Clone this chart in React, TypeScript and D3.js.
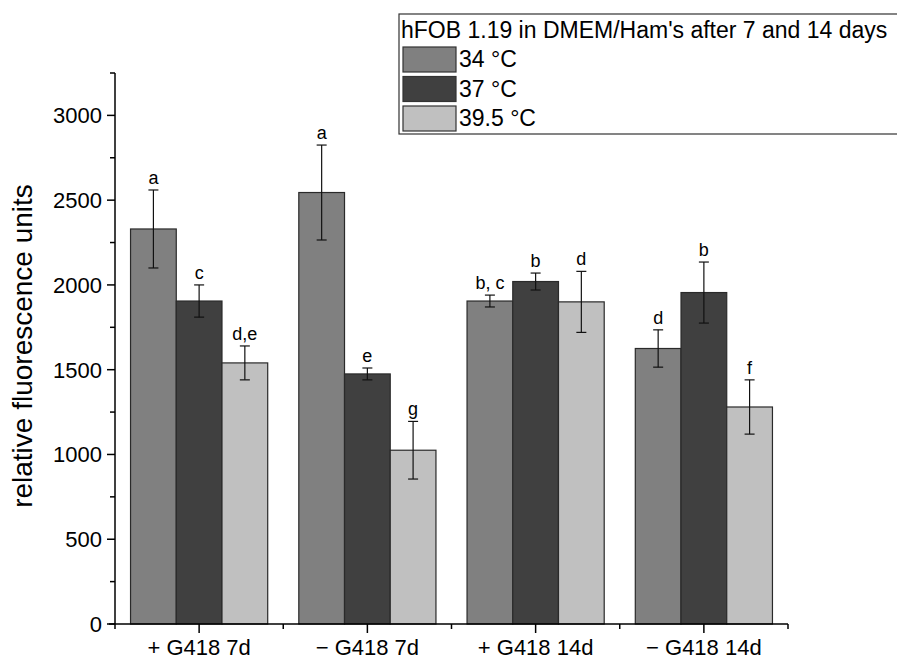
import { useEffect, useRef } from "react";
import * as d3 from "d3";

const categories = ["+ G418 7d", "\u2212 G418 7d", "+ G418 14d", "\u2212 G418 14d"];
const seriesNames = ["34 \u00b0C", "37 \u00b0C", "39.5 \u00b0C"];
const seriesColors = ["#808080", "#404040", "#c0c0c0"];
// per series, per category
const means = [
  [2330, 2545, 1905, 1625],
  [1905, 1475, 2020, 1955],
  [1540, 1025, 1900, 1280],
];
const errors = [
  [230, 280, 35, 110],
  [95, 35, 50, 180],
  [100, 170, 180, 160],
];
const letters = [
  ["a", "a", "b, c", "d"],
  ["c", "e", "b", "b"],
  ["d,e", "g", "d", "f"],
];
const yTicks = [0, 500, 1000, 1500, 2000, 2500, 3000];
const legendTitle = "hFOB 1.19 in DMEM/Ham's after 7 and 14 days";

export default function App() {
  const svgRef = useRef<SVGSVGElement | null>(null);

  useEffect(() => {
    if (!svgRef.current) return;
    const svg = d3.select(svgRef.current);
    svg.selectAll("*").remove();
    const font = "'Liberation Sans', Arial, sans-serif";

    const left = 115;
    const right = 788;
    const bottom = 624;
    const top = 73;

    const x = d3.scaleBand<string>().domain(categories).range([left, right]).paddingInner(0).paddingOuter(0);
    const inner = d3
      .scaleBand<number>()
      .domain(d3.range(seriesNames.length))
      .range([0, x.bandwidth()])
      .paddingOuter(0.34)
      .paddingInner(0);
    const y = d3.scaleLinear().domain([0, 3250]).range([bottom, top]);

    const g = svg.append("g");

    // bars
    means.forEach((vals, s) => {
      vals.forEach((v, c) => {
        const bx = x(categories[c])! + inner(s)!;
        g.append("rect")
          .attr("x", bx)
          .attr("y", y(v))
          .attr("width", inner.bandwidth())
          .attr("height", y(0) - y(v))
          .attr("fill", seriesColors[s])
          .attr("stroke", "#2a2a2a")
          .attr("stroke-width", 1.2);
      });
    });

    // error bars + letters
    means.forEach((vals, s) => {
      vals.forEach((v, c) => {
        const cx = x(categories[c])! + inner(s)! + inner.bandwidth() / 2;
        const e = errors[s][c];
        const y1 = y(v + e);
        const y2 = y(v - e);
        g.append("line").attr("x1", cx).attr("x2", cx).attr("y1", y1).attr("y2", y2)
          .attr("stroke", "#111").attr("stroke-width", 1.2);
        [y1, y2].forEach((yy) =>
          g.append("line").attr("x1", cx - 5).attr("x2", cx + 5).attr("y1", yy).attr("y2", yy)
            .attr("stroke", "#111").attr("stroke-width", 1.2)
        );
        g.append("text")
          .attr("x", cx)
          .attr("y", y1 - 6)
          .attr("text-anchor", "middle")
          .attr("font-family", font)
          .attr("font-size", 18)
          .attr("fill", "#000")
          .text(letters[s][c]);
      });
    });

    // y axis
    const yAxis = g.append("g");
    yAxis.append("line").attr("x1", left).attr("x2", left).attr("y1", top).attr("y2", bottom)
      .attr("stroke", "#000").attr("stroke-width", 1.5);
    d3.range(0, 3251, 250).forEach((t) => {
      const major = t % 500 === 0;
      yAxis.append("line").attr("x1", left - (major ? 8 : 5)).attr("x2", left)
        .attr("y1", y(t)).attr("y2", y(t)).attr("stroke", "#000").attr("stroke-width", 1.5);
    });
    yTicks.forEach((t) => {
      yAxis.append("text")
        .attr("x", left - 13)
        .attr("y", y(t))
        .attr("dy", "0.36em")
        .attr("text-anchor", "end")
        .attr("font-family", font)
        .attr("font-size", 22)
        .attr("fill", "#000")
        .text(t);
    });
    yAxis.append("text")
      .attr("transform", `translate(32,346) rotate(-90)`)
      .attr("text-anchor", "middle")
      .attr("font-family", font)
      .attr("font-size", 28)
      .attr("fill", "#000")
      .text("relative fluorescence units");

    // x axis
    const xAxis = g.append("g");
    xAxis.append("line").attr("x1", left - 6).attr("x2", right).attr("y1", bottom).attr("y2", bottom)
      .attr("stroke", "#000").attr("stroke-width", 1.5);
    categories.forEach((c, i) => {
      const cx = x(c)! + x.bandwidth() / 2;
      xAxis.append("line").attr("x1", cx).attr("x2", cx).attr("y1", bottom).attr("y2", bottom + 9)
        .attr("stroke", "#000").attr("stroke-width", 1.5);
      const bx = x(c)!;
      xAxis.append("line").attr("x1", bx).attr("x2", bx).attr("y1", bottom).attr("y2", bottom + 5)
        .attr("stroke", "#000").attr("stroke-width", 1.5);
      if (i === categories.length - 1) {
        xAxis.append("line").attr("x1", right).attr("x2", right).attr("y1", bottom).attr("y2", bottom + 5)
          .attr("stroke", "#000").attr("stroke-width", 1.5);
      }
      xAxis.append("text")
        .attr("x", cx)
        .attr("y", bottom + 31)
        .attr("text-anchor", "middle")
        .attr("font-family", font)
        .attr("font-size", 22)
        .attr("fill", "#000")
        .text(c);
    });

    // legend
    const lg = svg.append("g");
    lg.append("rect").attr("x", 399).attr("y", 14).attr("width", 505).attr("height", 120)
      .attr("fill", "#fff").attr("stroke", "#333").attr("stroke-width", 1.2);
    lg.append("text").attr("x", 401).attr("y", 38).attr("font-family", font).attr("font-size", 23)
      .attr("fill", "#000").text(legendTitle);
    seriesNames.forEach((name, i) => {
      const ry = 47 + i * 29.5;
      lg.append("rect").attr("x", 403).attr("y", ry).attr("width", 53).attr("height", 25)
        .attr("fill", seriesColors[i]).attr("stroke", "#333").attr("stroke-width", 1.2);
      lg.append("text").attr("x", 459).attr("y", ry + 20).attr("font-family", font).attr("font-size", 23)
        .attr("fill", "#000").text(name);
    });
  }, []);

  return (
    <div style={{ position: "absolute", left: 0, top: 0, background: "#fff" }}>
      <svg ref={svgRef} width={897} height={661} style={{ display: "block" }} />
    </div>
  );
}
